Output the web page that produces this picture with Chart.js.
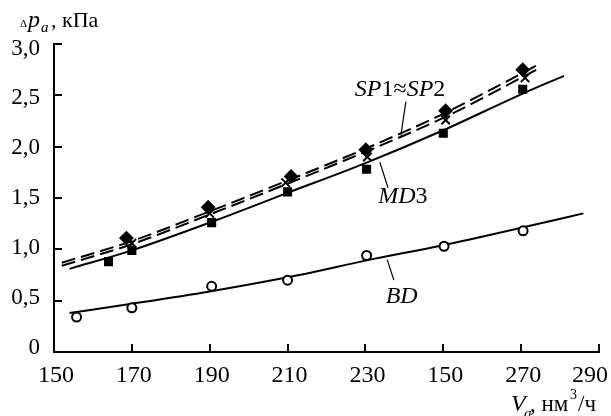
<!DOCTYPE html>
<html>
<head>
<meta charset="utf-8">
<script src="https://cdn.jsdelivr.net/npm/chart.js@4/dist/chart.umd.min.js"></script>
<style>
  html, body { margin: 0; padding: 0; background: #fff; }
  #wrap { width: 611px; height: 416px; position: relative; }
</style>
</head>
<body>
<div id="wrap"><canvas id="chart" width="611" height="416"></canvas></div>
<script>
// axis ticks (the 250 position is printed as "150" in the original)
const xTicks = [150, 170, 190, 210, 230, 250, 270, 290];
const xTickLabels = ['150', '170', '190', '210', '230', '150', '270', '290'];
const yTicks = [0, 0.5, 1, 1.5, 2, 2.5, 3];
const yTickLabels = ['0', '0,5', '1,0', '1,5', '2,0', '2,5', '3,0'];

// measured points
const bdX = [155.8, 170, 190.5, 210, 230.3, 250.2, 270.5];
const bdY = [0.34, 0.43, 0.64, 0.70, 0.94, 1.03, 1.18];
const md3X = [164, 170, 190.5, 210, 230.3, 250, 270.4];
const md3Y = [0.88, 0.99, 1.26, 1.56, 1.78, 2.13, 2.56];
const sp1X = [168.6, 189.6, 210.9, 230.1, 250.6, 270.4];
const sp1Y = [1.11, 1.41, 1.71, 1.97, 2.35, 2.75];
const sp2X = [170, 190, 209.5, 230.5, 250.6, 271];
const sp2Y = [1.06, 1.35, 1.65, 1.90, 2.26, 2.67];

// fitted curves
const bdLineX = [154, 170, 190, 213, 230, 250, 270, 286];
const bdLineY = [0.38, 0.47, 0.59, 0.75, 0.89, 1.04, 1.21, 1.35];
const md3LineX = [154, 170, 190, 210, 230, 250, 270, 281];
const md3LineY = [0.81, 0.99, 1.26, 1.55, 1.84, 2.16, 2.51, 2.69];
const spLineX = [152, 170, 190, 210, 230, 250, 275];
const sp1LineY = [0.87, 1.08, 1.37, 1.67, 1.98, 2.32, 2.81];
const sp2LineY = [0.84, 1.05, 1.34, 1.64, 1.95, 2.28, 2.77];

const serif = "'Liberation Serif', 'Times New Roman', serif";

function pts(xs, ys) {
    return xs.map((x, i) => ({ x: x, y: ys[i] }));
}

function markers(xs, ys, style, radius, fill) {
    return {
        data: pts(xs, ys),
        showLine: false,
        pointStyle: style,
        pointRadius: radius,
        pointBackgroundColor: fill,
        pointBorderColor: '#000',
        pointBorderWidth: 2
    };
}

function curve(xs, ys, dash) {
    return {
        data: pts(xs, ys),
        showLine: true,
        borderColor: '#000',
        borderWidth: 2,
        borderDash: dash,
        pointRadius: 0,
        tension: 0.4,
        cubicInterpolationMode: 'monotone'
    };
}

// curve labels with leader lines, in data units
const notes = [
    { runs: [['SP', 'italic'], ['1≈', ''], ['SP', 'italic'], ['2', '']], x: 238.9, y: 2.57, from: [240.4, 2.44], to: [239.1, 2.11] },
    { runs: [['MD', 'italic'], ['3', '']], x: 239.6, y: 1.53, from: [233.7, 1.85], to: [235.8, 1.60] },
    { runs: [['BD', 'italic']], x: 239.3, y: 0.555, from: [235.6, 0.90], to: [237.3, 0.70] }
];

function drawRuns(ctx, runs, cx, baseline, size) {
    let widths = runs.map(r => {
        ctx.font = (r[1] ? r[1] + ' ' : '') + size + 'px ' + serif;
        return ctx.measureText(r[0]).width;
    });
    let total = widths.reduce((a, b) => a + b, 0);
    let x = cx - total / 2;
    runs.forEach((r, i) => {
        ctx.font = (r[1] ? r[1] + ' ' : '') + size + 'px ' + serif;
        ctx.fillText(r[0], x, baseline);
        x += widths[i];
    });
}

const extras = {
    id: 'extras',
    afterDraw(chart) {
        const ctx = chart.ctx;
        const xs = chart.scales.x, ys = chart.scales.y;
        const area = chart.chartArea;
        ctx.save();
        ctx.strokeStyle = '#000';
        ctx.fillStyle = '#000';
        ctx.lineWidth = 2;
        // inward tick marks
        yTicks.forEach(v => {
            if (v === 0) return;
            const py = Math.round(ys.getPixelForValue(v));
            ctx.beginPath();
            ctx.moveTo(area.left, py);
            ctx.lineTo(area.left + 8, py);
            ctx.stroke();
        });
        xTicks.forEach(v => {
            if (v === 150) return;
            const px = Math.round(xs.getPixelForValue(v));
            ctx.beginPath();
            ctx.moveTo(px, area.bottom);
            ctx.lineTo(px, area.bottom - 8);
            ctx.stroke();
        });
        // y tick labels (printed slightly closer together than the ticks)
        ctx.font = '23px ' + serif;
        ctx.textAlign = 'right';
        ctx.textBaseline = 'middle';
        yTicks.forEach((v, i) => {
            const py = ys.getPixelForValue(v) + (v - 1.5) * 3;
            ctx.fillText(yTickLabels[i], area.left - 14, py);
        });
        // x tick labels, last one kept inside the canvas
        ctx.font = '24px ' + serif;
        ctx.textAlign = 'left';
        ctx.textBaseline = 'alphabetic';
        xTicks.forEach((v, i) => {
            const w = ctx.measureText(xTickLabels[i]).width;
            let left = xs.getPixelForValue(v) - w / 2 + 2;
            left = Math.min(left, chart.width - 3 - w);
            ctx.fillText(xTickLabels[i], left, area.bottom + 30);
        });
        // curve labels
        ctx.lineWidth = 1.2;
        notes.forEach(n => {
            ctx.beginPath();
            ctx.moveTo(xs.getPixelForValue(n.from[0]), ys.getPixelForValue(n.from[1]));
            ctx.lineTo(xs.getPixelForValue(n.to[0]), ys.getPixelForValue(n.to[1]));
            ctx.stroke();
            drawRuns(ctx, n.runs, xs.getPixelForValue(n.x), ys.getPixelForValue(n.y) + 8, 24);
        });
        // y axis title
        ctx.font = '11px ' + serif;
        ctx.fillText('\u0394', 20, 27);
        ctx.font = 'italic 24px ' + serif;
        ctx.fillText('p', 28, 27);
        ctx.font = 'italic 15px ' + serif;
        ctx.fillText('a', 41, 32);
        ctx.font = '22px ' + serif;
        ctx.fillText(', кПа', 51, 27);
        // x axis title
        ctx.font = 'italic 24px ' + serif;
        ctx.fillText('V', 511, 411);
        ctx.font = 'italic 15px ' + serif;
        ctx.fillText('a', 524, 418);
        ctx.font = '23px ' + serif;
        ctx.fillText(', нм', 530, 411);
        ctx.font = '14px ' + serif;
        ctx.fillText('3', 570, 399);
        ctx.font = '23px ' + serif;
        ctx.fillText('/ч', 578, 411);
        ctx.restore();
    }
};

new Chart(document.getElementById('chart').getContext('2d'), {
    type: 'scatter',
    data: {
        datasets: [
            markers(sp1X, sp1Y, 'rectRot', 6, '#000'),
            markers(sp2X, sp2Y, 'crossRot', 6, '#000'),
            markers(md3X, md3Y, 'rect', 5, '#000'),
            markers(bdX, bdY, 'circle', 4.5, '#fff'),
            curve(spLineX, sp1LineY, [14, 6]),
            curve(spLineX, sp2LineY, [14, 6]),
            curve(md3LineX, md3LineY, []),
            curve(bdLineX, bdLineY, [])
        ]
    },
    options: {
        responsive: false,
        animation: false,
        layout: { padding: { top: 44, right: 12, left: 0, bottom: 0 } },
        plugins: { legend: { display: false }, tooltip: { enabled: false } },
        scales: {
            x: {
                type: 'linear',
                min: 150, max: 290,
                afterFit: s => { s.height = 64; s.paddingLeft = 0; s.paddingRight = 0; },
                grid: { display: false, drawTicks: false },
                border: { display: true, color: '#000', width: 2 },
                ticks: { display: false }
            },
            y: {
                type: 'linear',
                min: 0, max: 3,
                afterFit: s => { s.width = 54; s.paddingTop = 0; s.paddingBottom = 0; },
                grid: { display: false, drawTicks: false },
                border: { display: true, color: '#000', width: 2 },
                ticks: { display: false }
            }
        }
    },
    plugins: [extras]
});
</script>
</body>
</html>
